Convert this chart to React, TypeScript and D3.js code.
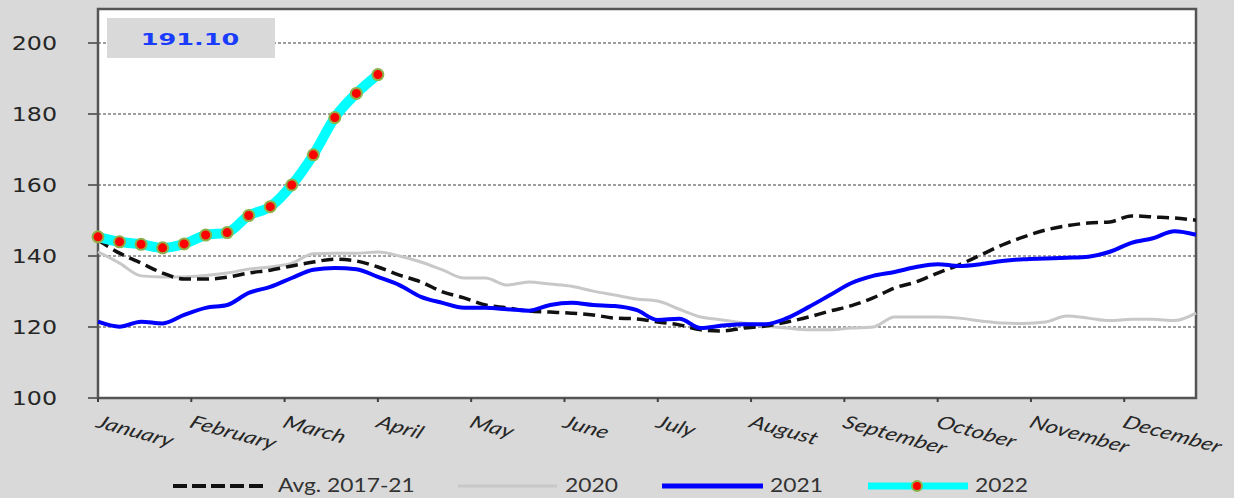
import React from "react";
import * as d3 from "d3";

const months = ["January","February","March","April","May","June","July","August","September","October","November","December"];
const yTicks = [100, 120, 140, 160, 180, 200];

const avg1721 = [144.5,140.8,138,135.2,133.5,133.5,134,135.2,136,137.2,138.3,139.1,138.6,136.9,134.6,132.7,129.9,128.2,126.2,125.4,124.5,124.2,123.9,123.4,122.5,122.3,121.4,120.6,119.2,118.9,119.7,120.3,121.4,122.8,124.5,126,128.2,131,132.7,135.2,137.5,140.3,143.1,145.4,147.3,148.5,149.3,149.6,151.3,151,150.7,150.1];
const y2020 = [141.2,138,134.4,134.1,134.1,134.5,135.2,136.3,136.9,138,140.6,140.8,140.8,141.1,140,138.3,136.1,133.8,133.8,131.8,132.7,132.1,131.5,130.1,129,127.9,127.3,125,122.8,122,121.1,120.3,119.7,119.2,119.2,119.7,120,122.8,122.8,122.8,122.5,121.7,121.1,121,121.4,123.1,122.5,121.8,122.2,122.2,121.8,123.9];
const y2021 = [121.5,120.1,121.5,121,123.4,125.4,126.2,129.6,131.3,133.8,136.1,136.6,136.3,134.1,131.8,128.5,126.8,125.4,125.4,125,124.6,126.2,126.8,126.2,125.9,124.8,122,122.3,119.7,120.4,120.8,120.8,122.5,125.6,129,132.4,134.4,135.5,136.9,137.7,137.2,137.7,138.6,139.1,139.3,139.5,139.8,141.2,143.7,145,147,146];
const y2022 = [145.4,144.0,143.3,142.3,143.4,145.9,146.6,151.4,153.9,160.0,168.5,179.0,185.8,191.1];
const latestLabel = "191.10";

const W = 1234, H = 498;
const L = 98, R = 1196, T = 9, B = 398;

export default function App() {
  const x = d3.scaleLinear().domain([0, 51]).range([L, R]);
  const y = d3.scaleLinear().domain([100, 200]).range([B, 43]);
  const line = d3.line<number>().x((_, i) => x(i)).y((d) => y(d)).curve(d3.curveMonotoneX);
  const monthPos = months.map((_, i) => x((52 / 12) * i));
  const SX = 1.25;

  return (
    <svg width={W} height={H} style={{ position: "absolute", left: 0, top: 0 }}>
      <rect x={0} y={0} width={W} height={H} fill="#d9d9d9" />
      <rect x={L} y={T} width={R - L} height={B - T} fill="#ffffff" />
      {yTicks.filter((t) => t > 100).map((t) => (
        <line key={"g" + t} x1={L} x2={R} y1={y(t)} y2={y(t)} stroke="#7f7f7f" strokeWidth={1.6} strokeDasharray="3,2" />
      ))}
      {yTicks.map((t) => (
        <g key={"yt" + t}>
          <line x1={L - 10} x2={L} y1={y(t)} y2={y(t)} stroke="#404040" strokeWidth={1.5} />
          <text transform={`translate(57,${y(t) + 7}) scale(${SX},1)`} textAnchor="end" fontFamily="DejaVu Sans" fontSize={19} fill="#262626">{t}</text>
        </g>
      ))}
      <rect x={L} y={T} width={R - L} height={B - T} fill="none" stroke="#555" strokeWidth={2.5} />
      {monthPos.map((mx, i) => (
        <g key={"m" + i}>
          <line x1={mx} x2={mx} y1={B} y2={B + 4} stroke="#404040" strokeWidth={2} />
          <text transform={`translate(${mx - 3},${B + 29}) scale(1.35,1) rotate(20)`} fontFamily="Lato" fontStyle="italic" fontSize={18} fill="#262626">{months[i]}</text>
        </g>
      ))}
      <path d={line(y2020) || ""} fill="none" stroke="#c8c8c8" strokeWidth={3} />
      <path d={line(avg1721) || ""} fill="none" stroke="#111" strokeWidth={3.5} strokeDasharray="12,6" />
      <path d={line(y2021) || ""} fill="none" stroke="#0000ff" strokeWidth={4} />
      <path d={line(y2022) || ""} fill="none" stroke="#00ffff" strokeWidth={10} />
      {y2022.map((v, i) => (
        <circle key={"p" + i} cx={x(i)} cy={y(v)} r={5.5} fill="#ff0000" stroke="#8fb14a" strokeWidth={2} />
      ))}
      <rect x={107} y={18} width={168} height={40} fill="#d9d9d9" />
      <text transform={`translate(190,45) scale(1.55,1)`} textAnchor="middle" fontFamily="DejaVu Sans" fontWeight="bold" fontSize={16.5} fill="#1a3cff">{latestLabel}</text>
      {/* legend */}
      <g>
        <line x1={173} x2={268} y1={486} y2={486} stroke="#111" strokeWidth={4} strokeDasharray="14,5" />
        <text transform={`translate(278,492) scale(1.2,1)`} fontFamily="Lato" fontSize={19} fill="#333">Avg. 2017-21</text>
        <line x1={458} x2={557} y1={486} y2={486} stroke="#c8c8c8" strokeWidth={3} />
        <text transform={`translate(565,492) scale(1.2,1)`} fontFamily="Lato" fontSize={19} fill="#333">2020</text>
        <line x1={662} x2={763} y1={486} y2={486} stroke="#0000ff" strokeWidth={5} />
        <text transform={`translate(770,492) scale(1.2,1)`} fontFamily="Lato" fontSize={19} fill="#333">2021</text>
        <line x1={868} x2={968} y1={486} y2={486} stroke="#00ffff" strokeWidth={7} />
        <circle cx={917} cy={486} r={5} fill="#ff0000" stroke="#8fb14a" strokeWidth={2} />
        <text transform={`translate(975,492) scale(1.2,1)`} fontFamily="Lato" fontSize={19} fill="#333">2022</text>
      </g>
    </svg>
  );
}
